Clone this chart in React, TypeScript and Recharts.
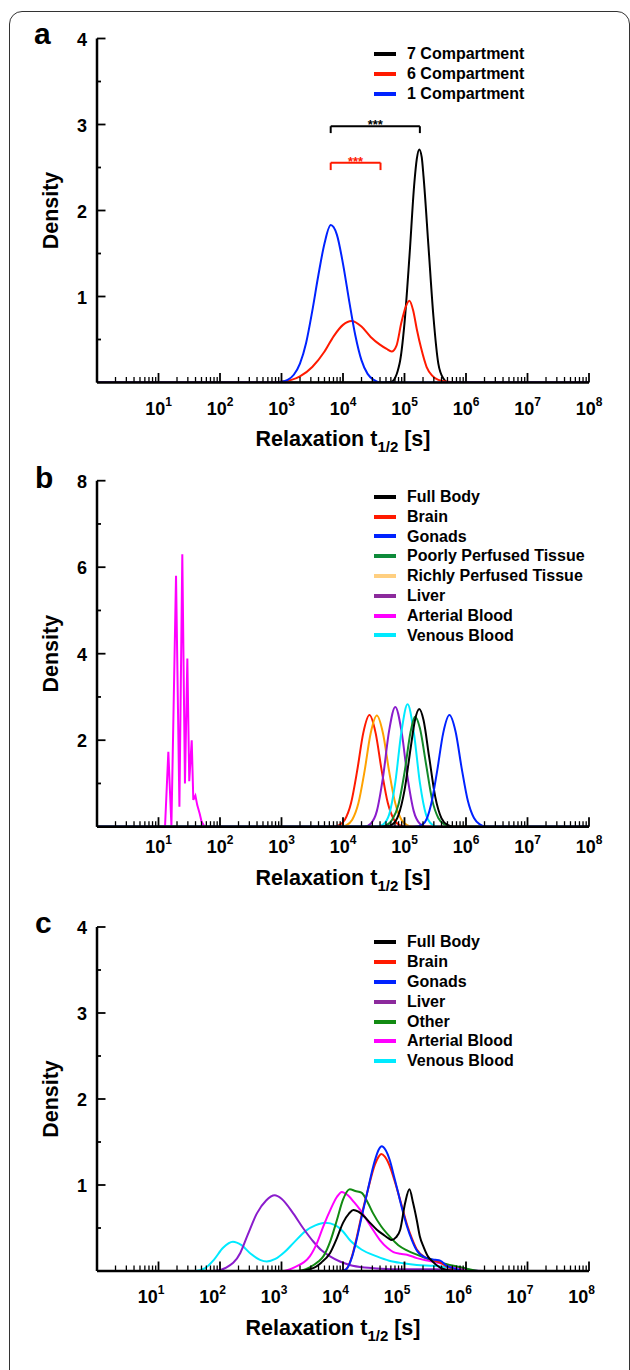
import React from 'react';
import { LineChart, Line, XAxis, YAxis, Legend, ReferenceLine } from 'recharts';

const FONT = "'Liberation Sans', Arial, Helvetica, sans-serif";

// ---------- axis ticks ----------
const xDecadeExponents = [0, 1, 2, 3, 4, 5, 6, 7, 8];
const xMinorMultipliers = [2, 3, 4, 5, 6, 7, 8, 9];
const xLabelExponents = [1, 2, 3, 4, 5, 6, 7, 8];
const yTicksA = [0, 0.5, 1, 1.5, 2, 2.5, 3, 3.5, 4];
const yLabelsA = [1, 2, 3, 4];
const yTicksB = [0, 1, 2, 3, 4, 5, 6, 7, 8];
const yLabelsB = [2, 4, 6, 8];
const yTicksC = [0, 0.5, 1, 1.5, 2, 2.5, 3, 3.5, 4];
const yLabelsC = [1, 2, 3, 4];

const xTicks: number[] = [];
xDecadeExponents.forEach((e) => {
  xTicks.push(Math.pow(10, e));
  if (e < 8) xMinorMultipliers.forEach((m) => xTicks.push(m * Math.pow(10, e)));
});

// ---------- panel a data (x: log10 of t1/2 in s) ----------
const aBlackLog = [0, 4.6, 4.79, 4.92, 5.0, 5.08, 5.16, 5.2, 5.24, 5.28, 5.31, 5.39, 5.47, 5.55, 5.63, 5.72, 8];
const aBlackDen = [0, 0, 0.01, 0.22, 0.69, 1.46, 2.32, 2.6, 2.71, 2.62, 2.39, 1.58, 0.77, 0.22, 0.05, 0, 0];
const aRedLog = [0, 2.6, 3.0, 3.3, 3.5, 3.7, 3.85, 4.0, 4.14, 4.3, 4.45, 4.6, 4.71, 4.79, 4.87, 4.95, 5.02, 5.08, 5.14, 5.2, 5.27, 5.36, 5.45, 5.55, 5.7, 6.0, 8];
const aRedDen = [0, 0, 0.01, 0.07, 0.18, 0.36, 0.54, 0.67, 0.715, 0.65, 0.53, 0.44, 0.39, 0.36, 0.43, 0.7, 0.88, 0.95, 0.84, 0.62, 0.4, 0.18, 0.08, 0.03, 0.01, 0, 0];
const aBlueLog = [0, 2.8, 3.0, 3.1, 3.2, 3.3, 3.4, 3.5, 3.6, 3.7, 3.8, 3.9, 4.0, 4.1, 4.2, 4.3, 4.4, 4.5, 4.6, 8];
const aBlueDen = [0, 0, 0.01, 0.03, 0.09, 0.22, 0.46, 0.83, 1.25, 1.62, 1.83, 1.72, 1.38, 0.95, 0.55, 0.26, 0.1, 0.03, 0, 0];

// significance brackets (log10 x, density y)
const bracketBlack = { x1: 3.8, x2: 5.25, yTop: 2.98, yBottom: 2.9 };
const bracketRed = { x1: 3.8, x2: 4.61, yTop: 2.556, yBottom: 2.47 };

// ---------- panel b data ----------
const bBlackLog = [0, 4.6, 4.7, 4.8, 4.9, 5.0, 5.1, 5.17, 5.24, 5.31, 5.4, 5.5, 5.6, 5.7, 5.8, 8];
const bBlackDen = [0, 0, 0.01, 0.05, 0.26, 0.84, 1.82, 2.46, 2.72, 2.46, 1.62, 0.69, 0.2, 0.04, 0, 0];
const bRedLog = [0, 3.83, 3.93, 4.03, 4.13, 4.23, 4.33, 4.43, 4.53, 4.63, 4.73, 4.83, 4.93, 5.03, 8];
const bRedDen = [0, 0, 0.03, 0.16, 0.54, 1.29, 2.17, 2.58, 2.17, 1.29, 0.54, 0.16, 0.03, 0, 0];
const bBlueLog = [0, 5.13, 5.23, 5.33, 5.43, 5.53, 5.63, 5.73, 5.83, 5.93, 6.03, 6.13, 6.23, 6.33, 8];
const bBlueDen = [0, 0, 0.01, 0.1, 0.5, 1.28, 2.17, 2.58, 2.2, 1.35, 0.6, 0.2, 0.05, 0, 0];
const bGreenLog = [0, 4.6, 4.7, 4.8, 4.9, 5.0, 5.1, 5.17, 5.25, 5.35, 5.45, 5.55, 5.65, 5.75, 8];
const bGreenDen = [0, 0, 0.03, 0.16, 0.5, 1.25, 2.2, 2.54, 2.28, 1.45, 0.62, 0.2, 0.05, 0, 0];
const bOrangeLog = [0, 3.95, 4.05, 4.15, 4.25, 4.35, 4.45, 4.55, 4.65, 4.75, 4.85, 4.95, 5.05, 5.15, 8];
const bOrangeDen = [0, 0, 0.03, 0.16, 0.54, 1.28, 2.16, 2.57, 2.16, 1.28, 0.54, 0.16, 0.03, 0, 0];
const bPurpleLog = [0, 4.35, 4.45, 4.55, 4.65, 4.75, 4.85, 4.95, 5.05, 5.15, 5.25, 5.35, 8];
const bPurpleDen = [0, 0, 0.07, 0.36, 1.14, 2.22, 2.77, 2.22, 1.14, 0.36, 0.07, 0, 0];
const bMagentaLog = [0, 1.0, 1.106, 1.16, 1.21, 1.285, 1.34, 1.387, 1.43, 1.469, 1.5, 1.54, 1.566, 1.6, 1.63, 1.67, 1.7, 1.75, 8];
const bMagentaDen = [0, 0, 0, 1.73, 0.02, 5.8, 0.46, 6.3, 1.0, 3.89, 1.05, 2.0, 0.62, 0.72, 0.5, 0.3, 0.12, 0, 0];
const bCyanLog = [0, 4.55, 4.65, 4.75, 4.85, 4.95, 5.05, 5.15, 5.25, 5.35, 5.45, 5.55, 8];
const bCyanDen = [0, 0, 0.05, 0.28, 1.02, 2.19, 2.83, 2.19, 1.02, 0.28, 0.05, 0, 0];

// ---------- panel c data ----------
const cBlackLog = [0, 3.25, 3.5, 3.65, 3.79, 3.9, 4.0, 4.1, 4.17, 4.25, 4.35, 4.44, 4.55, 4.66, 4.74, 4.79, 4.86, 4.93, 5.01, 5.08, 5.14, 5.2, 5.25, 5.31, 5.38, 5.44, 5.58, 5.8, 8];
const cBlackDen = [0, 0, 0.03, 0.1, 0.21, 0.38, 0.56, 0.67, 0.71, 0.69, 0.63, 0.56, 0.48, 0.42, 0.38, 0.36, 0.39, 0.48, 0.79, 0.95, 0.79, 0.59, 0.4, 0.28, 0.17, 0.12, 0.04, 0, 0];
const cRedLog = [0, 3.95, 4.05, 4.15, 4.22, 4.3, 4.39, 4.52, 4.58, 4.62, 4.68, 4.76, 4.83, 4.9, 4.97, 5.04, 5.12, 5.2, 5.36, 5.5, 5.58, 5.69, 5.8, 5.95, 8];
const cRedDen = [0, 0, 0.02, 0.18, 0.38, 0.64, 0.9, 1.24, 1.33, 1.36, 1.33, 1.22, 1.07, 0.9, 0.72, 0.54, 0.38, 0.25, 0.15, 0.12, 0.1, 0.05, 0.02, 0, 0];
const cBlueLog = [0, 3.95, 4.05, 4.15, 4.22, 4.3, 4.39, 4.52, 4.58, 4.63, 4.69, 4.76, 4.83, 4.9, 4.97, 5.04, 5.12, 5.2, 5.36, 5.5, 5.58, 5.69, 5.8, 5.95, 8];
const cBlueDen = [0, 0, 0.02, 0.17, 0.36, 0.62, 0.9, 1.29, 1.41, 1.45, 1.41, 1.29, 1.1, 0.9, 0.7, 0.52, 0.36, 0.24, 0.15, 0.13, 0.12, 0.06, 0.03, 0, 0];
const cPurpleLog = [0, 1.9, 2.1, 2.33, 2.45, 2.6, 2.75, 2.89, 3.0, 3.19, 3.35, 3.52, 3.65, 3.79, 3.95, 4.11, 4.35, 4.55, 5.0, 5.5, 6.0, 6.3, 8];
const cPurpleDen = [0, 0, 0.04, 0.21, 0.42, 0.67, 0.82, 0.88, 0.84, 0.67, 0.5, 0.34, 0.24, 0.17, 0.11, 0.07, 0.04, 0.03, 0.02, 0.02, 0.01, 0, 0];
const cGreenLog = [0, 3.25, 3.45, 3.6, 3.68, 3.8, 3.9, 4.0, 4.11, 4.2, 4.3, 4.4, 4.49, 4.62, 4.76, 4.9, 5.04, 5.2, 5.31, 5.45, 5.58, 5.8, 6.0, 6.2, 8];
const cGreenDen = [0, 0, 0.04, 0.11, 0.17, 0.36, 0.59, 0.83, 0.95, 0.93, 0.91, 0.8, 0.67, 0.52, 0.4, 0.3, 0.24, 0.19, 0.16, 0.13, 0.1, 0.06, 0.03, 0, 0];
const cMagentaLog = [0, 3.0, 3.2, 3.46, 3.58, 3.68, 3.8, 3.9, 3.98, 4.08, 4.18, 4.28, 4.45, 4.6, 4.72, 4.82, 4.93, 5.04, 5.2, 5.31, 5.45, 5.58, 5.8, 6.0, 6.2, 8];
const cMagentaDen = [0, 0, 0.04, 0.17, 0.33, 0.52, 0.72, 0.86, 0.92, 0.88, 0.8, 0.71, 0.52, 0.36, 0.27, 0.22, 0.2, 0.19, 0.15, 0.13, 0.11, 0.09, 0.05, 0.02, 0, 0];
const cCyanLog = [0, 1.6, 1.75, 1.9, 2.05, 2.21, 2.35, 2.5, 2.65, 2.76, 2.9, 3.05, 3.2, 3.4, 3.55, 3.71, 3.88, 4.0, 4.11, 4.3, 4.55, 4.75, 4.98, 5.2, 5.47, 5.74, 6.0, 6.2, 8];
const cCyanDen = [0, 0, 0.03, 0.13, 0.27, 0.34, 0.3, 0.2, 0.13, 0.11, 0.14, 0.22, 0.33, 0.47, 0.53, 0.56, 0.53, 0.46, 0.36, 0.25, 0.17, 0.12, 0.09, 0.07, 0.06, 0.04, 0.02, 0, 0];

// ---------- colours ----------
const C_BLACK = '#000000';
const C_RED = '#ff1a00';
const C_BLUE = '#0022ff';
const C_GREEN_B = '#0e8a3a';
const C_GREEN_C = '#128a12';
const C_ORANGE = '#ffa200';
const C_PURPLE = '#8a1ccc';
const C_MAGENTA = '#ff00ff';
const C_CYAN = '#00eaff';

type Series = { name: string; color: string; swatch: string; log: number[]; den: number[]; linear?: boolean };

const seriesA: Series[] = [
  { name: '7 Compartment', color: C_BLACK, swatch: C_BLACK, log: aBlackLog, den: aBlackDen },
  { name: '6 Compartment', color: C_RED, swatch: C_RED, log: aRedLog, den: aRedDen },
  { name: '1 Compartment', color: C_BLUE, swatch: C_BLUE, log: aBlueLog, den: aBlueDen },
];
const drawOrderA = [0, 1, 2];

const seriesB: Series[] = [
  { name: 'Full Body', color: C_BLACK, swatch: C_BLACK, log: bBlackLog, den: bBlackDen },
  { name: 'Brain', color: C_RED, swatch: C_RED, log: bRedLog, den: bRedDen },
  { name: 'Gonads', color: C_BLUE, swatch: C_BLUE, log: bBlueLog, den: bBlueDen },
  { name: 'Poorly Perfused Tissue', color: '#138a2a', swatch: C_GREEN_B, log: bGreenLog, den: bGreenDen },
  { name: 'Richly Perfused Tissue', color: C_ORANGE, swatch: '#ffcf80', log: bOrangeLog, den: bOrangeDen },
  { name: 'Liver', color: C_PURPLE, swatch: '#8c2a9c', log: bPurpleLog, den: bPurpleDen },
  { name: 'Arterial Blood', color: C_MAGENTA, swatch: C_MAGENTA, log: bMagentaLog, den: bMagentaDen, linear: true },
  { name: 'Venous Blood', color: C_CYAN, swatch: C_CYAN, log: bCyanLog, den: bCyanDen },
];
const drawOrderB = [6, 1, 4, 5, 7, 3, 0, 2];

const seriesC: Series[] = [
  { name: 'Full Body', color: C_BLACK, swatch: C_BLACK, log: cBlackLog, den: cBlackDen },
  { name: 'Brain', color: C_RED, swatch: C_RED, log: cRedLog, den: cRedDen },
  { name: 'Gonads', color: C_BLUE, swatch: C_BLUE, log: cBlueLog, den: cBlueDen },
  { name: 'Liver', color: C_PURPLE, swatch: '#8c2a9c', log: cPurpleLog, den: cPurpleDen },
  { name: 'Other', color: C_GREEN_C, swatch: C_GREEN_C, log: cGreenLog, den: cGreenDen },
  { name: 'Arterial Blood', color: C_MAGENTA, swatch: C_MAGENTA, log: cMagentaLog, den: cMagentaDen },
  { name: 'Venous Blood', color: C_CYAN, swatch: C_CYAN, log: cCyanLog, den: cCyanDen },
];
const drawOrderC = [6, 3, 5, 4, 1, 2, 0];

const toRows = (log: number[], den: number[]) => log.map((l, i) => ({ t: Math.pow(10, l), d: den[i] }));

// ---------- custom axis parts ----------
function makeXTick(labelDx: number, baseDy: number) {
  return function XTick(props: any) {
    const { x, y, payload } = props;
    const v = payload.value as number;
    const e = Math.round(Math.log10(v));
    const major = Math.abs(v / Math.pow(10, e) - 1) < 1e-9;
    return (
      <g>
        <line x1={x} x2={x} y1={y} y2={y - (major ? 9.5 : 5.5)} stroke="#000" strokeWidth={major ? 1.8 : 1.3} />
        {major && xLabelExponents.includes(e) && (
          <text x={x + labelDx} y={y + baseDy} textAnchor="middle" fontFamily={FONT} fontWeight="bold" fontSize={18} fill="#000">
            10<tspan dy={-9} fontSize={12}>{e}</tspan>
          </text>
        )}
      </g>
    );
  };
}

function makeYTick(labels: number[]) {
  return function YTick(props: any) {
    const { x, y, payload } = props;
    const v = payload.value as number;
    if (v === 0) return <g />;
    const major = Number.isInteger(v) && (labels.includes(v));
    return (
      <g>
        <line x1={x} x2={x + (major ? 8.5 : 4)} y1={y} y2={y} stroke="#000" strokeWidth={1.8} />
        {labels.includes(v) && (
          <text x={x - 10} y={y + 7} textAnchor="end" fontFamily={FONT} fontWeight="bold" fontSize={18} fill="#000">
            {v}
          </text>
        )}
      </g>
    );
  };
}

function makeXTitle(dx: number, dy: number) {
  return function XTitle(props: any) {
    const vb = props.viewBox || {};
    const cx = vb.x + vb.width / 2 + dx;
    const y = vb.y + dy;
    return (
      <text x={cx} y={y} textAnchor="middle" fontFamily={FONT} fontWeight="bold" fontSize={21.5} fill="#000">
        Relaxation t<tspan dy={6} fontSize={15}>1/2</tspan>
        <tspan dy={-6}> [s]</tspan>
      </text>
    );
  };
}

function YTitle(props: any) {
  const vb = props.viewBox || {};
  const cy = vb.y + vb.height / 2;
  const x = 58;
  return (
    <text x={x} y={cy} transform={`rotate(-90 ${x} ${cy})`} textAnchor="middle" fontFamily={FONT} fontWeight="bold" fontSize={21.5} fill="#000">
      Density
    </text>
  );
}

function makeLegend(series: Series[], rowH: number) {
  return function LegendBox() {
    return (
      <div style={{ fontFamily: FONT, fontWeight: 'bold', fontSize: 16, color: '#000' }}>
        {series.map((s) => (
          <div key={s.name} style={{ display: 'flex', alignItems: 'center', height: rowH, whiteSpace: 'nowrap' }}>
            <span style={{ display: 'inline-block', width: 22, height: 4, background: s.swatch, marginRight: 11 }} />
            <span style={{ lineHeight: `${rowH}px` }}>{s.name}</span>
          </div>
        ))}
      </div>
    );
  };
}

const starLabel = (color: string) =>
  function Stars(props: any) {
    const vb = props.viewBox || {};
    return (
      <text x={vb.x + vb.width / 2} y={vb.y + 3} textAnchor="middle" fontFamily={FONT} fontWeight="bold" fontSize={13} fill={color}>
        ***
      </text>
    );
  };

type PanelProps = {
  top: number;
  height: number;
  margin: { top: number; right: number; bottom: number; left: number };
  yMax: number;
  yTicks: number[];
  yLabels: number[];
  series: Series[];
  drawOrder: number[];
  legendTop: number;
  rowH: number;
  xLabelDx: number;
  xLabelDy: number;
  titleDx: number;
  titleDy: number;
  extras?: React.ReactNode;
};

function Panel(p: PanelProps) {
  return (
    <div style={{ position: 'absolute', left: 0, top: p.top }}>
      <LineChart width={630} height={p.height} margin={p.margin}>
        <XAxis
          dataKey="t"
          type="number"
          scale="log"
          domain={[1, 1e8]}
          allowDataOverflow
          ticks={xTicks}
          interval={0}
          tickLine={false}
          tickSize={0}
          tickMargin={0}
          height={60}
          axisLine={{ stroke: '#000', strokeWidth: 2.5 }}
          tick={makeXTick(p.xLabelDx, p.xLabelDy)}
          label={makeXTitle(p.titleDx, p.titleDy)}
        />
        <YAxis
          type="number"
          domain={[0, p.yMax]}
          allowDataOverflow
          ticks={p.yTicks}
          interval={0}
          tickLine={false}
          tickSize={0}
          tickMargin={0}
          width={60}
          axisLine={{ stroke: '#000', strokeWidth: 2.5 }}
          tick={makeYTick(p.yLabels)}
          label={YTitle}
        />
        <Legend
          layout="vertical"
          align="center"
          verticalAlign="middle"
          wrapperStyle={{ left: 374, top: p.legendTop, width: 250 }}
          content={makeLegend(p.series, p.rowH)}
        />
        {p.drawOrder.map((i) => {
          const s = p.series[i];
          return (
            <Line
              key={s.name}
              name={s.name}
              data={toRows(s.log, s.den)}
              dataKey="d"
              type={s.linear ? 'linear' : 'monotone'}
              stroke={s.color}
              strokeWidth={2}
              dot={false}
              activeDot={false}
              isAnimationActive={false}
            />
          );
        })}
        {p.extras}
      </LineChart>
    </div>
  );
}

function bracket(b: { x1: number; x2: number; yTop: number; yBottom: number }, color: string, key: string) {
  const X1 = Math.pow(10, b.x1);
  const X2 = Math.pow(10, b.x2);
  return [
    <ReferenceLine key={key + 'l'} segment={[{ x: X1, y: b.yBottom }, { x: X1, y: b.yTop }]} stroke={color} strokeWidth={2} />,
    <ReferenceLine key={key + 'r'} segment={[{ x: X2, y: b.yBottom }, { x: X2, y: b.yTop }]} stroke={color} strokeWidth={2} />,
    <ReferenceLine key={key + 'h'} segment={[{ x: X1, y: b.yTop }, { x: X2, y: b.yTop }]} stroke={color} strokeWidth={2} label={starLabel(color)} />,
  ];
}

export default function App() {
  return (
    <div style={{ position: 'absolute', left: 0, top: 0, width: 630, height: 1370, overflow: 'hidden', background: '#fff' }}>
      <div
        style={{
          position: 'absolute',
          left: 9,
          top: 11,
          width: 621,
          height: 1420,
          boxSizing: 'border-box',
          border: '1.5px solid #333',
          borderRadius: 13,
        }}
      />
      <Panel
        top={0}
        height={460}
        margin={{ top: 38.5, right: 41, bottom: 17.5, left: 37 }}
        yMax={4}
        yTicks={yTicksA}
        yLabels={yLabelsA}
        series={seriesA}
        drawOrder={drawOrderA}
        legendTop={44}
        rowH={20}
        xLabelDx={0}
        xLabelDy={32.5}
        titleDx={0}
        titleDy={63.5}
        extras={[...bracket(bracketBlack, '#000', 'bk'), ...bracket(bracketRed, C_RED, 'rd')]}
      />
      <Panel
        top={440}
        height={460}
        margin={{ top: 40.7, right: 41, bottom: 13.3, left: 37 }}
        yMax={8}
        yTicks={yTicksB}
        yLabels={yLabelsB}
        series={seriesB}
        drawOrder={drawOrderB}
        legendTop={47}
        rowH={19.8}
        xLabelDx={0}
        xLabelDy={26.6}
        titleDx={0}
        titleDy={58.3}
      />
      <Panel
        top={880}
        height={480}
        margin={{ top: 47, right: 41, bottom: 29, left: 37 }}
        yMax={4}
        yTicks={yTicksC}
        yLabels={yLabelsC}
        series={seriesC}
        drawOrder={drawOrderC}
        legendTop={52}
        rowH={19.9}
        xLabelDx={-7.5}
        xLabelDy={31.7}
        titleDx={-10}
        titleDy={64}
      />
      <svg width={630} height={1370} style={{ position: 'absolute', left: 0, top: 0, pointerEvents: 'none' }}>
        <text x={34} y={44} fontFamily={FONT} fontWeight="bold" fontSize={30} fill="#000">a</text>
        <text x={35} y={488} fontFamily={FONT} fontWeight="bold" fontSize={30} fill="#000">b</text>
        <text x={35} y={933} fontFamily={FONT} fontWeight="bold" fontSize={30} fill="#000">c</text>
      </svg>
    </div>
  );
}
